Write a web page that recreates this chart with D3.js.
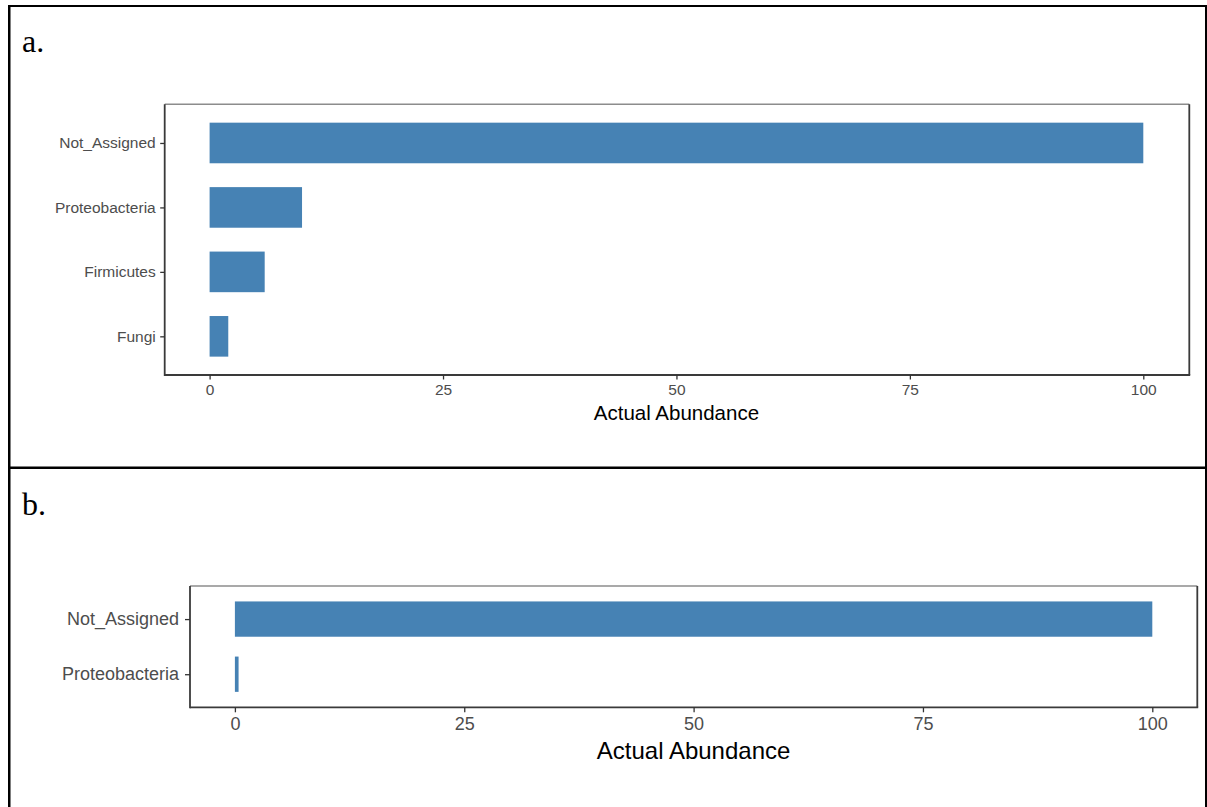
<!DOCTYPE html>
<html>
<head>
<meta charset="utf-8">
<script src="https://cdn.jsdelivr.net/npm/d3@7"></script>
<style>
  html, body { margin: 0; padding: 0; background: #ffffff; }
  svg { display: block; }
</style>
</head>
<body>
<svg id="fig" width="1207" height="807"></svg>
<script>
// Abundance per taxon, panel a
const categoriesA = ["Not_Assigned", "Proteobacteria", "Firmicutes", "Fungi"];
const abundanceA = [100, 9.9, 5.9, 2.0];

// Abundance per taxon, panel b
const categoriesB = ["Not_Assigned", "Proteobacteria"];
const abundanceB = [100, 0.4];

const xTicks = [0, 25, 50, 75, 100];
const panelLabels = ["a.", "b."];
const axisTitle = "Actual Abundance";

const svg = d3.select("#fig");
const BAR = "#4682B4";
const SANS = "'Liberation Sans', Arial, Helvetica, sans-serif";
const SERIF = "'Liberation Serif', 'Times New Roman', serif";

// Outer table frame with divider between the two figure cells
const frame = svg.append("g");
frame.append("rect").attr("x", 8).attr("y", 5).attr("width", 1199).attr("height", 2).attr("fill", "#000");
frame.append("rect").attr("x", 8).attr("y", 5).attr("width", 2.5).attr("height", 802).attr("fill", "#000");
frame.append("rect").attr("x", 1205).attr("y", 5).attr("width", 2).attr("height", 802).attr("fill", "#000");
frame.append("rect").attr("x", 8).attr("y", 466.5).attr("width", 1199).attr("height", 2.5).attr("fill", "#000");

function drawPanel(cfg) {
  const g = svg.append("g");

  // cell label
  g.append("text")
    .attr("x", cfg.labelX).attr("y", cfg.labelY)
    .attr("font-family", SERIF).attr("font-size", 32)
    .attr("fill", "#000")
    .text(cfg.label);

  const x = d3.scaleLinear().domain([0, 100]).range([cfg.x0, cfg.x100]);
  const y = d3.scalePoint().domain(cfg.categories)
    .range([cfg.top, cfg.bottom]).padding(0.6);
  const barH = y.step() * cfg.barFrac;

  // bars
  g.selectAll("rect.bar")
    .data(cfg.values.map((v, i) => ({ cat: cfg.categories[i], v })))
    .join("rect")
    .attr("class", "bar")
    .attr("x", x(0))
    .attr("y", d => y(d.cat) - barH / 2)
    .attr("width", d => x(d.v) - x(0))
    .attr("height", barH)
    .attr("fill", BAR);

  // panel box: lighter top edge, darker axis sides
  g.append("line").attr("x1", cfg.left).attr("x2", cfg.right)
    .attr("y1", cfg.top).attr("y2", cfg.top)
    .attr("stroke", "#8c8c8c").attr("stroke-width", 1.6);
  g.append("line").attr("x1", cfg.right).attr("x2", cfg.right)
    .attr("y1", cfg.top).attr("y2", cfg.bottom)
    .attr("stroke", "#3a3a3a").attr("stroke-width", 1.8);
  g.append("line").attr("x1", cfg.left).attr("x2", cfg.left)
    .attr("y1", cfg.top).attr("y2", cfg.bottom + 0.9)
    .attr("stroke", "#3a3a3a").attr("stroke-width", 1.8);
  g.append("line").attr("x1", cfg.left).attr("x2", cfg.right + 0.9)
    .attr("y1", cfg.bottom).attr("y2", cfg.bottom)
    .attr("stroke", "#3a3a3a").attr("stroke-width", 1.8);

  // x axis
  const xAxis = d3.axisBottom(x).tickValues(xTicks).tickSize(cfg.tick)
    .tickPadding(cfg.xPad).tickFormat(d3.format("d"));
  const gx = g.append("g").attr("transform", `translate(0,${cfg.bottom})`).call(xAxis);
  gx.select(".domain").remove();
  gx.selectAll(".tick line").attr("stroke", "#333").attr("stroke-width", 1.3);
  gx.selectAll(".tick text")
    .attr("font-family", SANS).attr("font-size", cfg.tickFont)
    .attr("fill", "#4d4d4d");

  // y axis
  const yAxis = d3.axisLeft(y).tickSize(cfg.tick).tickPadding(cfg.yPad);
  const gy = g.append("g").attr("transform", `translate(${cfg.left},0)`).call(yAxis);
  gy.select(".domain").remove();
  gy.selectAll(".tick line").attr("stroke", "#333").attr("stroke-width", 1.3);
  gy.selectAll(".tick text")
    .attr("font-family", SANS).attr("font-size", cfg.tickFont)
    .attr("fill", "#4d4d4d");

  // axis title
  g.append("text")
    .attr("x", (x(-5) + x(105)) / 2)
    .attr("y", cfg.titleY)
    .attr("text-anchor", "middle")
    .attr("dominant-baseline", "central")
    .attr("font-family", SANS).attr("font-size", cfg.titleFont)
    .attr("fill", "#000")
    .text(axisTitle);
}

drawPanel({
  label: panelLabels[0], labelX: 22, labelY: 52,
  categories: categoriesA, values: abundanceA,
  left: 164.7, right: 1189.3, top: 104.3, bottom: 375,
  x0: 209.6, x100: 1143.3, barFrac: 0.63,
  tick: 4.5, xPad: 4, yPad: 4.5, tickFont: 15.5,
  titleY: 412.5, titleFont: 20.5
});

drawPanel({
  label: panelLabels[1], labelX: 22, labelY: 515,
  categories: categoriesB, values: abundanceB,
  left: 190, right: 1197.3, top: 586, bottom: 707.3,
  x0: 234.9, x100: 1152.3, barFrac: 0.64,
  tick: 5, xPad: 5, yPad: 6, tickFont: 18,
  titleY: 750, titleFont: 24
});
</script>
</body>
</html>
